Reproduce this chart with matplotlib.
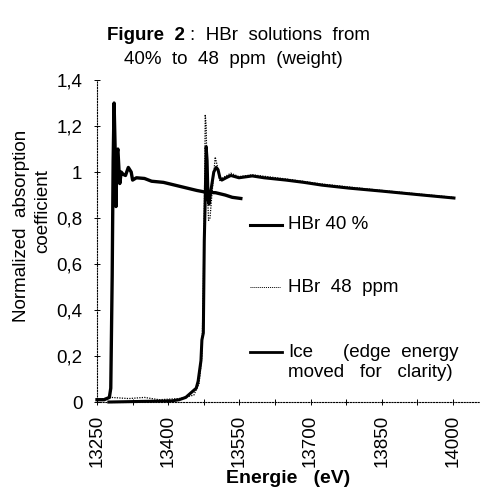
import matplotlib
matplotlib.use('Agg')
import matplotlib.pyplot as plt

plt.rcParams['font.family'] = ['Liberation Sans', 'DejaVu Sans']

# HBr 40 % (solid)
hbr40_e = [13275, 13408, 13423, 13437, 13448, 13459, 13463, 13465, 13469, 13471,
           13474, 13475, 13476, 13478, 13480, 13482, 13484, 13486, 13490, 13496,
           13501, 13505, 13509, 13513, 13522, 13532, 13549, 13577, 13602, 13648,
           13686, 13724, 13781, 13850, 13935, 14002]
hbr40_v = [0.0, 0.005, 0.01, 0.02, 0.04, 0.06, 0.09, 0.12, 0.18, 0.27,
           0.30, 0.50, 0.70, 0.88, 1.11, 1.05, 0.88, 0.86, 0.92, 1.0,
           1.02, 1.01, 0.975, 0.965, 0.975, 0.985, 0.975, 0.983, 0.975, 0.965,
           0.955, 0.943, 0.93, 0.917, 0.90, 0.887]

# HBr 48 ppm (dotted)
hbr48_e = [13250, 13280, 13317, 13350, 13381, 13423, 13454, 13465, 13471, 13474,
           13477, 13478, 13480, 13482, 13485, 13488, 13492, 13499, 13503, 13509,
           13515, 13532, 13549, 13577, 13648, 13724, 13781, 13850, 13935, 14002]
hbr48_v = [0.01, 0.02, 0.015, 0.02, 0.01, 0.015, 0.03, 0.08, 0.2, 0.5,
           1.0, 1.25, 1.2, 0.95, 0.79, 0.80, 0.90, 1.065, 1.03, 0.96,
           0.975, 0.995, 0.98, 0.988, 0.97, 0.948, 0.935, 0.92, 0.903, 0.89]

# Ice (edge energy moved)
ice_e = [13250, 13265, 13276, 13279, 13282, 13284, 13286, 13288, 13290, 13292,
         13294, 13296, 13298, 13301, 13305, 13310, 13316, 13322, 13325, 13333,
         13350, 13365, 13390, 13410, 13440, 13460, 13480, 13500, 13520, 13535, 13553]
ice_v = [0.01, 0.01, 0.02, 0.06, 0.55, 1.05, 1.30, 1.12, 0.85, 1.08,
         1.10, 1.02, 0.95, 1.0, 0.99, 0.985, 1.02, 1.0, 0.965, 0.975,
         0.972, 0.96, 0.955, 0.945, 0.93, 0.92, 0.912, 0.91, 0.90, 0.89, 0.885]

xticks = [13250, 13400, 13550, 13700, 13850, 14000]
yticks = [0, 0.2, 0.4, 0.6, 0.8, 1.0, 1.2, 1.4]
ytick_labels = ['0', '0,2', '0,4', '0,6', '0,8', '1', '1,2', '1,4']

fig = plt.figure(figsize=(4.8, 4.88), dpi=100)
ax = fig.add_axes([0.2021, 0.1762, 0.798, 0.6598])

ax.plot(hbr48_e, hbr48_v, color='black', lw=0.9, ls=(0, (1, 1)), clip_on=False)
ax.plot(ice_e, ice_v, color='black', lw=2.4, clip_on=False)
ax.plot(hbr40_e, hbr40_v, color='black', lw=2.2, clip_on=False)

ax.set_xlim(13250, 14057)
ax.set_ylim(0, 1.4)
ax.set_xticks(xticks)
ax.set_xticklabels([str(t) for t in xticks], rotation=90)
ax.set_xticks([13325, 13475, 13625, 13775, 13925], minor=True)
ax.set_yticks(yticks)
ax.set_yticklabels(ytick_labels)
ax.tick_params(axis='both', which='both', direction='inout', length=5, width=0.7,
               labelsize=13.5, colors='black')
ax.tick_params(axis='y', pad=8)
ax.tick_params(axis='x', pad=7)

for s in ['top', 'right']:
    ax.spines[s].set_visible(False)
for s in ['left', 'bottom']:
    ax.spines[s].set_linestyle((0, (1, 1.5)))
    ax.spines[s].set_linewidth(0.8)

# legend drawn by hand
ax.plot([0.40, 0.483], [0.55, 0.55], transform=ax.transAxes, color='black', lw=2.2)
ax.plot([0.40, 0.478], [0.357, 0.357], transform=ax.transAxes, color='black', lw=0.7, ls=(0, (1, 1)))
ax.plot([0.40, 0.483], [0.155, 0.155], transform=ax.transAxes, color='black', lw=2.0)
ax.text(0.499, 0.55, 'HBr 40 %', transform=ax.transAxes, va='center', ha='left', fontsize=13.5)
ax.text(0.499, 0.357, 'HBr  48  ppm', transform=ax.transAxes, va='center', ha='left', fontsize=13.5)
ax.text(0.499, 0.155, 'Ice', transform=ax.transAxes, va='center', ha='left', fontsize=13.5)
ax.text(0.9426, 0.155, '(edge  energy', transform=ax.transAxes, va='center', ha='right', fontsize=13.5)
ax.text(0.499, 0.093, 'moved   for   clarity)', transform=ax.transAxes, va='center', ha='left', fontsize=13.5)

# title
fig.text(185 / 480, 1 - 36 / 488, 'Figure  2', fontsize=13.5, fontweight='bold', ha='right', va='center')
fig.text(190 / 480, 1 - 36 / 488, ':  HBr  solutions  from', fontsize=13.5, ha='left', va='center')
fig.text(233 / 480, 1 - 60 / 488, '40%  to  48  ppm  (weight)', fontsize=13.5, ha='center', va='center')

ax.set_xlabel('Energie   (eV)', fontsize=14, fontweight='bold', labelpad=2)
fig.text(22 / 480, 1 - 226 / 488, 'Normalized  absorption', rotation=90, fontsize=13.5,
         ha='center', va='center')
fig.text(43 / 480, 1 - 211 / 488, 'coefficient', rotation=90, fontsize=13.5,
         ha='center', va='center')

fig.savefig('out.png', dpi=100)
